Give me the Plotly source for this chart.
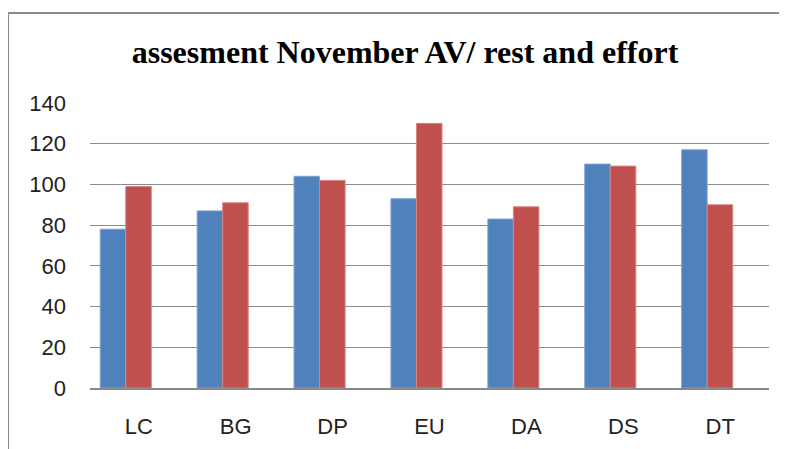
import plotly.graph_objects as go

categories = ["LC", "BG", "DP", "EU", "DA", "DS", "DT"]
series_blue = [78, 87, 104, 93, 83, 110, 117]
series_red = [99, 91, 102, 130, 89, 109, 90]
y_ticks = [0, 20, 40, 60, 80, 100, 120, 140]
title_text = "assesment November AV/ rest and effort"

# page body has an 8px margin; figure is sized so the chart lands where the reference has it
OFF = 8
W, H = 787 - OFF, 449 - OFF
L, R, T, B = 90 - OFF, 18, 103 - OFF, 61

fig = go.Figure()
fig.add_trace(go.Bar(x=list(range(len(categories))), y=series_blue, name="AV rest",
                     marker=dict(color="#4F81BD", line=dict(color="#7FA3D3", width=1))))
fig.add_trace(go.Bar(x=list(range(len(categories))), y=series_red, name="AV effort",
                     marker=dict(color="#C0504D", line=dict(color="#D98583", width=1))))

fig.update_layout(
    width=W, height=H,
    margin=dict(l=L, r=R, t=T, b=B, autoexpand=False),
    paper_bgcolor="white", plot_bgcolor="white",
    barmode="group", bargap=0.473, bargroupgap=0,
    showlegend=False,
    title=dict(text="<b>" + title_text + "</b>", x=(405 - OFF) / W, xanchor="center",
               y=1 - (52 - OFF) / H, yanchor="middle",
               font=dict(family="Liberation Serif", size=32, color="#000000")),
    xaxis=dict(
        tickmode="array", tickvals=list(range(len(categories))), ticktext=categories,
        range=[-0.369, 6.638], showgrid=False, zeroline=False,
        showline=True, linecolor="#888888", linewidth=1.5,
        ticks="", ticklabelshift=13, ticklabelstandoff=18, automargin=False,
        tickfont=dict(family="Liberation Sans", size=22, color="#222222"),
        fixedrange=True,
    ),
    yaxis=dict(
        range=[0, 140], tickvals=y_ticks, showgrid=True, gridcolor="#8c8c8c", gridwidth=1.3,
        zeroline=False, showline=False, ticks="", ticklabelstandoff=23, automargin=False,
        tickfont=dict(family="Liberation Sans", size=22, color="#222222"),
        fixedrange=True,
    ),
)

# outer chart border (top and left visible)
plot_w = W - L - R
plot_h = H - T - B
x_left = (8 - 90) / plot_w
y_top = (388 - 13) / plot_h
fig.add_shape(type="line", xref="paper", yref="paper", x0=x_left, x1=x_left, y0=-0.3, y1=y_top,
              line=dict(color="#8a8a8a", width=2))
fig.add_shape(type="line", xref="paper", yref="paper", x0=x_left, x1=1.1, y0=y_top, y1=y_top,
              line=dict(color="#8a8a8a", width=2))

fig.write_html("out.html")
